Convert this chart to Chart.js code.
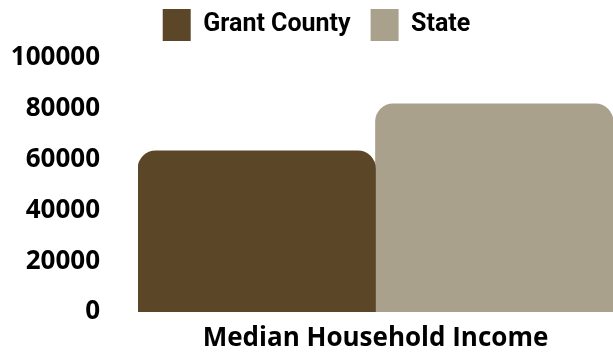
<!DOCTYPE html>
<html>
<head>
<meta charset="utf-8">
<script src="https://cdn.jsdelivr.net/npm/chart.js@4"></script>
<style>
  html, body { margin: 0; padding: 0; background: #ffffff; }
  #wrap { width: 613px; height: 353px; }
</style>
</head>
<body>
<div id="wrap"><canvas id="c"></canvas></div>
<script>
// Median household income: Grant County vs. State
const categories = ['Median Household Income'];
const seriesNames = ['Grant County', 'State'];
const grantCounty = [63500];
const stateValues = [82000];
const yTicks = [0, 20000, 40000, 60000, 80000, 100000];
const colors = ['#5b4727', '#aaa18c'];

Chart.defaults.color = '#000000';
const axisFont = { family: '"Open Sans", sans-serif', size: 26, weight: 'bold' };

// Legend placement tweaks: extra room below the legend row, nudged right
const legendTweak = {
  id: 'legendTweak',
  beforeInit(chart) {
    const fit = chart.legend.fit;
    chart.legend.fit = function () { fit.call(this); this.height += 7; };
  },
  afterLayout(chart) {
    chart.legend.left += 10;
    chart.legend.right += 10;
  }
};

new Chart(document.getElementById('c'), {
  type: 'bar',
  data: {
    labels: categories,
    datasets: [
      { label: seriesNames[0], data: grantCounty, backgroundColor: colors[0],
        borderRadius: { topLeft: 18, topRight: 18 }, borderSkipped: 'bottom' },
      { label: seriesNames[1], data: stateValues, backgroundColor: colors[1],
        borderRadius: { topLeft: 18, topRight: 18 }, borderSkipped: 'bottom' }
    ]
  },
  options: {
    responsive: true,
    maintainAspectRatio: false,
    animation: false,
    layout: { padding: { left: 0, right: 0, top: -11, bottom: 0 } },
    datasets: { bar: { barPercentage: 1, categoryPercentage: 1 } },
    plugins: {
      legend: {
        position: 'top',
        labels: {
          boxWidth: 28, boxHeight: 32, padding: 20,
          font: { family: 'Roboto, sans-serif', size: 25, weight: 'bold' }, color: '#000'
        }
      },
      tooltip: { enabled: false }
    },
    scales: {
      x: {
        grid: { display: false }, border: { display: false },
        afterFit: (axis) => { axis.height = 41; },
        ticks: { font: axisFont, color: '#000', padding: 3 }
      },
      y: {
        min: 0, max: 100000,
        afterBuildTicks: (axis) => { axis.ticks = yTicks.map(v => ({ value: v })); },
        afterFit: (axis) => { axis.width = 138; },
        grid: { display: false, tickLength: 30 }, border: { display: false },
        ticks: { font: axisFont, color: '#000', padding: 8, callback: (v) => String(v) }
      }
    }
  },
  plugins: [legendTweak]
});
</script>
</body>
</html>
